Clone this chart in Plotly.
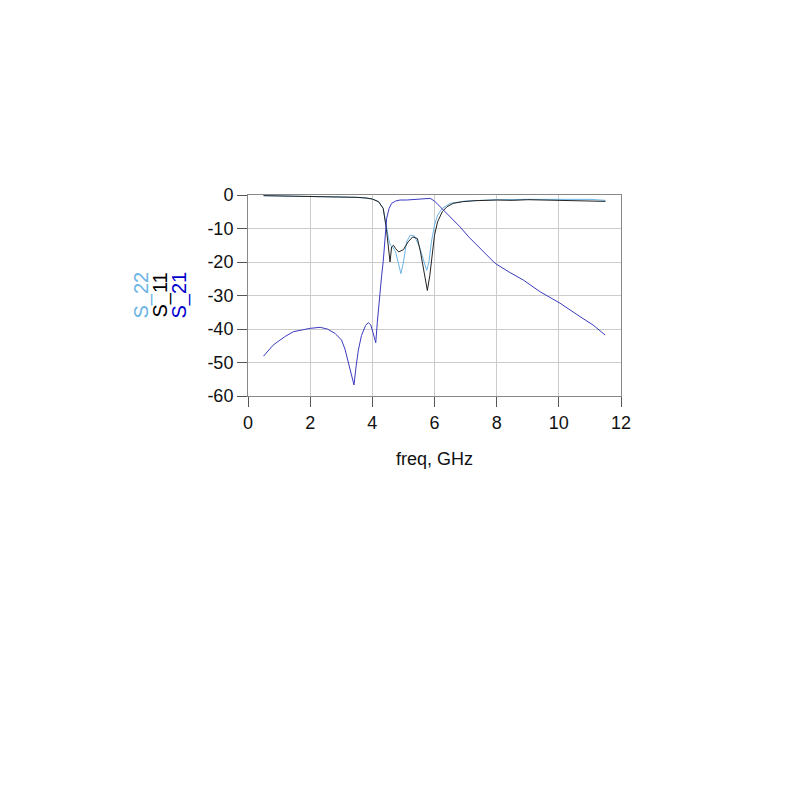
import plotly.graph_objects as go

# S21 (blue)
f21 = [0.5, 0.65, 0.81, 1.0, 1.2, 1.46, 1.7, 2.0, 2.32, 2.55, 2.8, 3.01, 3.12, 3.23, 3.32, 3.41, 3.48, 3.55, 3.65, 3.78, 3.87, 3.95, 4.02, 4.11, 4.16, 4.22, 4.3, 4.35, 4.4, 4.46, 4.54, 4.62, 4.75, 4.89, 5.1, 5.3, 5.5, 5.75, 5.86, 6.0, 6.18, 6.5, 6.82, 7.1, 7.46, 7.95, 8.4, 8.86, 9.4, 10.04, 10.68, 11.1, 11.49]
s21 = [-48.1, -46.5, -44.8, -43.5, -42.2, -40.8, -40.3, -39.8, -39.5, -40.0, -41.3, -43.3, -46.0, -50.2, -53.5, -56.7, -51.0, -46.3, -42.0, -39.0, -38.1, -38.8, -41.0, -44.1, -38.0, -31.0, -24.0, -19.9, -13.0, -7.0, -4.0, -2.5, -1.8, -1.5, -1.5, -1.4, -1.2, -1.0, -1.0, -1.8, -3.5, -6.5, -9.5, -12.5, -15.9, -20.4, -23.0, -25.4, -28.9, -32.3, -36.3, -38.8, -41.8]

# S11 (black)
f11 = [0.5, 1.0, 1.5, 2.0, 2.5, 3.0, 3.5, 3.8, 4.0, 4.2, 4.35, 4.45, 4.52, 4.57, 4.62, 4.68, 4.75, 4.85, 5.0, 5.15, 5.3, 5.45, 5.55, 5.65, 5.77, 5.85, 5.92, 6.0, 6.1, 6.25, 6.4, 6.6, 6.9, 7.3, 8.0, 8.5, 9.0, 9.5, 10.0, 10.5, 11.0, 11.5]
s11 = [-0.2, -0.3, -0.4, -0.4, -0.5, -0.5, -0.7, -0.9, -1.2, -2.0, -4.0, -10.0, -16.0, -20.0, -15.5, -15.0, -16.0, -17.0, -16.3, -14.0, -12.5, -13.0, -17.0, -22.0, -28.5, -24.0, -18.0, -12.0, -8.0, -5.0, -3.5, -2.5, -2.0, -1.7, -1.5, -1.6, -1.4, -1.5, -1.6, -1.5, -1.7, -1.9]

# S22 (light blue)
f22 = [0.5, 1.0, 1.5, 2.0, 2.5, 3.0, 3.5, 3.8, 4.0, 4.2, 4.35, 4.45, 4.52, 4.58, 4.65, 4.75, 4.85, 4.92, 5.0, 5.1, 5.22, 5.35, 5.5, 5.62, 5.75, 5.82, 5.9, 6.0, 6.1, 6.25, 6.5, 7.0, 8.0, 9.0, 10.0, 11.0, 11.5]
s22 = [-0.2, -0.3, -0.4, -0.4, -0.5, -0.5, -0.7, -0.9, -1.2, -2.0, -4.0, -9.0, -13.0, -15.0, -15.5, -17.0, -21.0, -23.5, -20.0, -14.0, -12.0, -12.2, -15.0, -19.0, -22.5, -20.0, -14.0, -9.0, -6.0, -4.0, -2.5, -1.8, -1.4, -1.3, -1.4, -1.3, -1.6]

x_ticks = [0, 2, 4, 6, 8, 10, 12]
x_tick_labels = ["0", "2", "4", "6", "8", "10", "12"]
y_ticks = [0, -10, -20, -30, -40, -50, -60]
y_tick_labels = ["0", "-10", "-20", "-30", "-40", "-50", "-60"]

C22 = "#6cb4e4"
C11 = "#222222"
C21 = "#3a3ac0"

fig = go.Figure()
fig.add_trace(go.Scatter(x=f22, y=s22, mode="lines", line=dict(color=C22, width=1), name="S_22"))
fig.add_trace(go.Scatter(x=f11, y=s11, mode="lines", line=dict(color=C11, width=1), name="S_11"))
fig.add_trace(go.Scatter(x=f21, y=s21, mode="lines", line=dict(color=C21, width=1), name="S_21"))

font = "Liberation Sans, Arial, sans-serif"
fig.update_layout(
    width=800, height=800,
    margin=dict(l=240, r=187, t=187, b=412),
    paper_bgcolor="white", plot_bgcolor="white",
    showlegend=False,
    font=dict(family=font, size=17, color="#111111"),
)
fig.update_xaxes(
    range=[0, 12], tickvals=x_ticks, ticktext=x_tick_labels, ticks="outside", ticklen=10, tickcolor="#555555",
    showgrid=True, gridcolor="#cccccc", gridwidth=1,
    showline=True, linecolor="#888888", linewidth=1, mirror=True, zeroline=False,
    title=dict(text="freq, GHz", font=dict(size=18), standoff=20),
    tickfont=dict(size=18),
)
fig.update_yaxes(
    range=[-60, 0], tickvals=y_ticks, ticktext=y_tick_labels, ticks="outside", ticklen=10, tickcolor="#555555",
    showgrid=True, gridcolor="#cccccc", gridwidth=1,
    showline=True, linecolor="#888888", linewidth=1, mirror=True, zeroline=False,
    tickfont=dict(size=18),
)

for txt, col, xp in [("S_22", C22, 141), ("S_11", "#000000", 160), ("S_21", "#0000cc", 179)]:
    fig.add_annotation(text=txt, xref="paper", yref="paper",
                       x=(xp - 248) / 373, y=0.5, textangle=-90, showarrow=False,
                       font=dict(size=20, color=col, family=font), xanchor="center", yanchor="middle")

fig.write_html("out.html")
